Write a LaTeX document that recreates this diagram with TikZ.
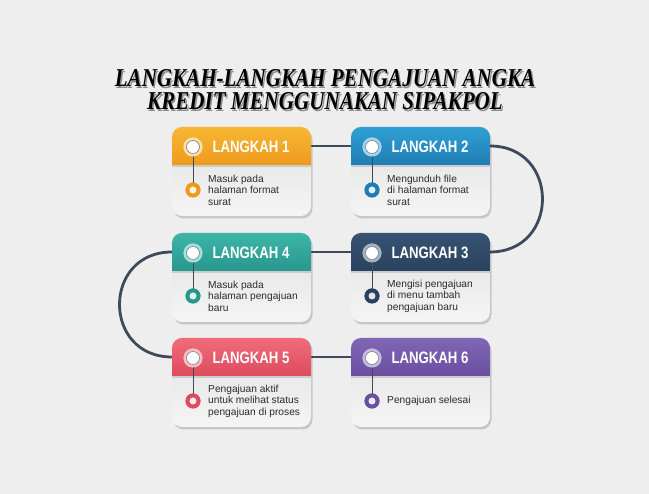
\documentclass[tikz,border=0pt]{standalone}
\usepackage{fontspec}
\setmainfont{Liberation Sans}
\newfontfamily\titlefont{Liberation Serif}
\usetikzlibrary{calc}
\definecolor{bgc}{HTML}{EEEEEE}
\definecolor{conn}{HTML}{3E4A5C}
\definecolor{txt}{HTML}{2B2B2B}
\definecolor{oA}{HTML}{F7B733}\definecolor{oB}{HTML}{EE9A1F}
\definecolor{bA}{HTML}{2FA0D4}\definecolor{bB}{HTML}{1F7DB4}
\definecolor{nA}{HTML}{375372}\definecolor{nB}{HTML}{2A425E}
\definecolor{tA}{HTML}{3DB5A8}\definecolor{tB}{HTML}{29978D}
\definecolor{rA}{HTML}{F06C7A}\definecolor{rB}{HTML}{DD4C5E}
\definecolor{pA}{HTML}{8266B6}\definecolor{pB}{HTML}{6A4E9F}
\tikzset{
  cardbox/.style={rectangle,inner sep=0pt,outer sep=0pt,minimum width=139pt,minimum height=89pt,anchor=north west},
  hband/.style={rectangle,inner sep=0pt,outer sep=0pt,minimum width=139pt,minimum height=38pt,anchor=north west},
  connector/.style={draw=conn,line width=2.8pt},
  hdrtext/.style={text=white,inner sep=0pt,font=\fontsize{16.5}{16.5}\selectfont\bfseries},
  bodytext/.style={text=txt,inner sep=0pt,align=left,anchor=west,font=\fontsize{10.2}{11.5}\selectfont},
  ringouter/.style={circle,inner sep=0pt,minimum size=19pt},
  ringinner/.style={circle,inner sep=0pt,minimum size=13pt,fill=white,draw=conn!70,line width=0.6pt},
  dotouter/.style={circle,inner sep=0pt,minimum size=15pt},
  dotinner/.style={circle,inner sep=0pt,minimum size=7pt},
  stem/.style={draw=conn,line width=0.8pt},
  titletext/.style={inner sep=0pt,anchor=base,align=center,font=\titlefont\fontsize{25.7}{23}\selectfont\bfseries\itshape},
}
\newcommand{\shadowed}[1]{\makebox[0pt][l]{\hspace{1.8pt}\raisebox{-1.8pt}{\textcolor{black!45}{#1}}}#1}
% #1 id, #2 left, #3 top, #4 top colour, #5 bottom colour, #6 label, #7 text
\newcommand{\stepcard}[7]{%
  \node[cardbox] (c#1) at (#2,#3) {};
  \node[hband] (hb#1) at (#2,#3) {};
  \fill[black,opacity=.16,rounded corners=10pt] ($(c#1.south west)+(1.5,-2.5)$) rectangle ($(c#1.north east)+(1.5,-2.5)$);
  \begin{scope}
    \clip[rounded corners=10pt] (c#1.south west) rectangle (c#1.north east);
    \shade[top color=black!12,bottom color=black!4] (c#1.south west) rectangle (c#1.north east);
    \shade[top color=#4,bottom color=#5] (hb#1.south west) rectangle (hb#1.north east);
    \fill[black,opacity=.12] (hb#1.south west) rectangle ($(hb#1.south east)+(0,-2)$);
  \end{scope}
  \node[ringouter,fill=#4!45!white] (r#1) at ($(c#1.north west)+(21,-20)$) {};
  \node[dotouter,fill=#5] (d#1) at ($(c#1.north west)+(21,-63)$) {};
  \draw[stem] (r#1.center) -- (d#1.center);
  \node[ringouter,fill=#4!45!white] at (r#1) {};
  \node[ringinner] (ri#1) at (r#1) {};
  \node[dotouter,fill=#5] at (d#1) {};
  \node[dotinner,fill=#4!15!white] (di#1) at (d#1) {};
  \node[hdrtext] (h#1) at ($(c#1.north west)+(79,-20)$) {\scalebox{0.8}[1]{#6}};
  \node[bodytext] (t#1) at ($(c#1.north west)+(36,-63)$) {#7};
}
\begin{document}
\begin{tikzpicture}[x=1pt,y=1pt]
\useasboundingbox (0,0) rectangle (649,494);
\fill[bgc] (0,0) rectangle (649,494);
% title
\node[titletext] (title) at (325,384) {\scalebox{0.82}[1]{\shadowed{LANGKAH-LANGKAH PENGAJUAN ANGKA}}\\\scalebox{0.82}[1]{\shadowed{KREDIT MENGGUNAKAN SIPAKPOL}}};
% anchors for connectors
\node[hband] (a1) at (172,367) {};
\node[hband] (a2) at (351,367) {};
\node[hband] (a3) at (351,261) {};
\node[hband] (a4) at (172,261) {};
\node[hband] (a5) at (172,156) {};
\node[hband] (a6) at (351,156) {};
\draw[connector] (a1.east) -- (a2.west);
\draw[connector] (a2.east) to[out=0,in=0,distance=70pt] (a3.east);
\draw[connector] (a3.west) -- (a4.east);
\draw[connector] (a4.west) to[out=180,in=180,distance=70pt] (a5.west);
\draw[connector] (a5.east) -- (a6.west);
% cards
\stepcard{1}{172}{367}{oA}{oB}{LANGKAH 1}{Masuk pada\\halaman format\\surat}
\stepcard{2}{351}{367}{bA}{bB}{LANGKAH 2}{Mengunduh file\\di halaman format\\surat}
\stepcard{3}{351}{261}{nA}{nB}{LANGKAH 3}{Mengisi pengajuan\\di menu tambah\\pengajuan baru}
\stepcard{4}{172}{261}{tA}{tB}{LANGKAH 4}{Masuk pada\\halaman pengajuan\\baru}
\stepcard{5}{172}{156}{rA}{rB}{LANGKAH 5}{Pengajuan aktif\\untuk melihat status\\pengajuan di proses}
\stepcard{6}{351}{156}{pA}{pB}{LANGKAH 6}{Pengajuan selesai}
\end{tikzpicture}
\end{document}
